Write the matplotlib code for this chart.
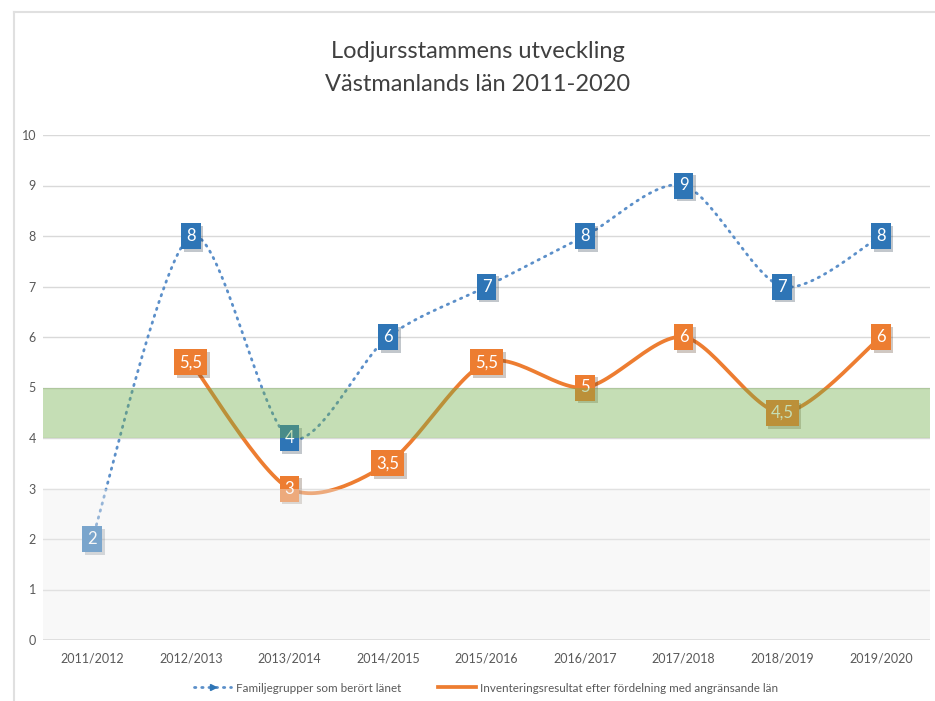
import numpy as np
import matplotlib
matplotlib.use("Agg")
import matplotlib.pyplot as plt
import matplotlib.patheffects as pe
from matplotlib.lines import Line2D

plt.rcParams['font.family'] = ['Lato', 'DejaVu Sans']

seasons = ["2011/2012", "2012/2013", "2013/2014", "2014/2015", "2015/2016",
           "2016/2017", "2017/2018", "2018/2019", "2019/2020"]
familjegrupper = [2, 8, 4, 6, 7, 8, 9, 7, 8]
inventering = [np.nan, 5.5, 3, 3.5, 5.5, 5, 6, 4.5, 6]

blue = "#2e75b6"
blue_line = "#5b8fc9"
orange = "#ed7d31"


def smooth(xs, ys, n=30, k=7.0):
    # bezier smoothing through the points, like excel's "smoothed line"
    xs = np.asarray(xs, float)
    ys = np.asarray(ys, float)
    px, py = [], []
    for i in range(len(xs) - 1):
        x0, y0 = (xs[i - 1], ys[i - 1]) if i > 0 else (xs[i], ys[i])
        x3, y3 = (xs[i + 2], ys[i + 2]) if i + 2 < len(xs) else (xs[i + 1], ys[i + 1])
        x1, y1, x2, y2 = xs[i], ys[i], xs[i + 1], ys[i + 1]
        t = np.linspace(0, 1, n)
        c1x, c1y = x1 + (x2 - x0) / k, y1 + (y2 - y0) / k
        c2x, c2y = x2 - (x3 - x1) / k, y2 - (y3 - y1) / k
        bx = (1 - t) ** 3 * x1 + 3 * (1 - t) ** 2 * t * c1x + 3 * (1 - t) * t ** 2 * c2x + t ** 3 * x2
        by = (1 - t) ** 3 * y1 + 3 * (1 - t) ** 2 * t * c1y + 3 * (1 - t) * t ** 2 * c2y + t ** 3 * y2
        px.extend(bx)
        py.extend(by)
    return np.array(px), np.array(py)


fig = plt.figure(figsize=(9.35, 7.01), dpi=100)
ax = fig.add_axes([43 / 935, 1 - 640 / 701, 887 / 935, 505 / 701])

x = np.arange(len(seasons))
# x scaled so the curve bends about like in screen space
sx, sy = smooth(x * 2, familjegrupper)
ax.plot(sx / 2, sy, color=blue_line, lw=2.0, linestyle=(0, (0.5, 2.1)),
        dash_capstyle="round", zorder=3)
ok = ~np.isnan(inventering)
ox, oy = smooth(x[ok] * 2, np.array(inventering)[ok])
ax.plot(ox / 2, oy, color=orange, lw=2.7, solid_capstyle="round", zorder=4)


def fmt(v):
    return ("%g" % v).replace(".", ",")


def label(xv, yv, col, z):
    t = ax.text(xv, yv, fmt(yv), ha="center", va="center", fontsize=12, color="white",
                zorder=z, bbox=dict(boxstyle="square,pad=0.3", fc=col, ec="none"))
    t.get_bbox_patch().set_path_effects([pe.SimplePatchShadow(offset=(2, -2), alpha=0.25),
                                         pe.Normal()])


for xi, v in zip(x, familjegrupper):
    label(xi, v, blue, 6)
for xi, v in zip(x, inventering):
    if not np.isnan(v):
        label(xi, v, orange, 7)

# semi-transparent bands drawn on top, like the original
ax.axhspan(4, 5, color="#70ad47", alpha=0.4, lw=0, zorder=10)
ax.axhspan(0, 3, color="#eeeeee", alpha=0.4, lw=0, zorder=10)

ax.set_xlim(-0.5, len(seasons) - 0.5)
ax.set_ylim(0, 10)
ax.set_yticks(range(0, 11))
ax.set_xticks(x)
ax.set_xticklabels(seasons)
ax.grid(axis="y", color="#d9d9d9", lw=1, zorder=0)
ax.set_axisbelow(True)
for s in ax.spines.values():
    s.set_visible(False)
ax.axhline(0, color="#d0d0d0", lw=1.2, zorder=1)
ax.tick_params(length=0, labelsize=9, colors="#595959", pad=9)
ax.tick_params(axis="y", pad=5)

fig.text(0.511, 0.926, "Lodjursstammens utveckling", ha="center", va="center",
         fontsize=17, color="#404040")
fig.text(0.511, 0.879, "Västmanlands län 2011-2020", ha="center", va="center",
         fontsize=17, color="#404040")

# outer frame
fig.add_artist(Line2D([14 / 935, 14 / 935], [0, 1 - 12 / 701], color="#e0e0e0", lw=1.5))
fig.add_artist(Line2D([14 / 935, 1], [1 - 12 / 701, 1 - 12 / 701], color="#e0e0e0", lw=1.5))

handles = [Line2D([], [], color=blue_line, lw=2, linestyle=(0, (0.5, 2.1)), dash_capstyle="round",
                  marker=">", markersize=5, markevery=[1], markerfacecolor=blue, markeredgecolor=blue),
           Line2D([], [], color=orange, lw=2.7)]
fig.legend(handles, ["Familjegrupper som berört länet",
                     "Inventeringsresultat efter fördelning med angränsande län"],
           loc="center", bbox_to_anchor=(0.52, 1 - 688 / 701), ncol=2, frameon=False,
           fontsize=8.4, labelcolor="#595959", handlelength=3.2, handletextpad=0.4,
           columnspacing=3.2)

fig.savefig("out.png", dpi=100, facecolor="white")
